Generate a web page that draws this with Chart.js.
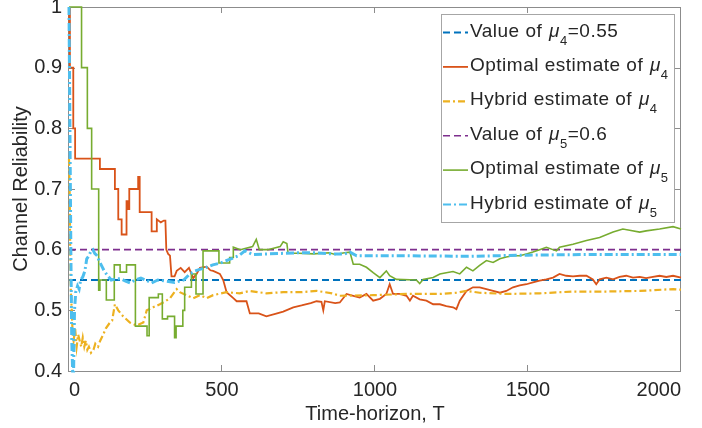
<!DOCTYPE html>
<html>
<head>
<meta charset="utf-8">
<script src="https://cdn.jsdelivr.net/npm/chart.js@4"></script>
<style>
	html, body { margin: 0; padding: 0; background: #fff; }
	#wrap { width: 702px; height: 428px; position: relative; }
</style>
</head>
<body>
<div id="wrap"><canvas id="reliability"></canvas></div>
<script>
const xTicks = [0, 500, 1000, 1500, 2000];
const yTicks = [0.4, 0.5, 0.6, 0.7, 0.8, 0.9, 1];

const legendLabels = ['Value of ', 'Optimal estimate of ', 'Hybrid estimate of ', 'Value of ', 'Optimal estimate of ', 'Hybrid estimate of '];
const legendSubs = ['4', '4', '4', '5', '5', '5'];
const legendTails = ['=0.55', '', '', '=0.6', '', ''];

const trueMu4 = 0.55;
const trueMu5 = 0.6;
const trueT = [0, 2000];

const optMu4T = [0, 3, 3, 14, 14, 20, 20, 101, 101, 150, 150, 161, 161, 172, 172, 188, 188, 193, 193, 197, 197, 226, 226, 231, 231, 270, 270, 287, 287, 300, 310, 315, 318, 324, 330, 335, 345, 352, 365, 378, 392, 406, 417, 428, 450, 462, 471, 493, 504, 515, 537, 548, 580, 591, 620, 645, 680, 700, 733, 760, 790, 809, 825, 831, 836, 870, 885, 907, 929, 950, 972, 994, 1016, 1037, 1048, 1059, 1081, 1103, 1114, 1124, 1146, 1168, 1190, 1212, 1233, 1255, 1266, 1277, 1299, 1320, 1342, 1364, 1386, 1408, 1429, 1451, 1473, 1495, 1516, 1538, 1560, 1582, 1603, 1625, 1647, 1669, 1691, 1712, 1723, 1734, 1756, 1778, 1799, 1821, 1843, 1865, 1886, 1908, 1930, 1952, 1974, 2000];
const optMu4 = [1, 1, 0.9, 0.9, 0.8, 0.8, 0.75, 0.75, 0.733, 0.733, 0.7, 0.7, 0.65, 0.65, 0.625, 0.625, 0.68, 0.68, 0.667, 0.667, 0.7, 0.7, 0.72, 0.72, 0.662, 0.662, 0.63, 0.63, 0.65, 0.645, 0.648, 0.648, 0.6, 0.593, 0.59, 0.556, 0.556, 0.565, 0.57, 0.563, 0.57, 0.553, 0.56, 0.57, 0.572, 0.566, 0.565, 0.56, 0.55, 0.53, 0.52, 0.515, 0.515, 0.495, 0.495, 0.49, 0.495, 0.498, 0.505, 0.508, 0.512, 0.515, 0.514, 0.5, 0.515, 0.512, 0.513, 0.527, 0.524, 0.521, 0.527, 0.516, 0.519, 0.527, 0.543, 0.527, 0.527, 0.524, 0.516, 0.524, 0.518, 0.516, 0.51, 0.51, 0.507, 0.505, 0.502, 0.516, 0.532, 0.538, 0.538, 0.535, 0.532, 0.529, 0.532, 0.538, 0.541, 0.543, 0.546, 0.549, 0.551, 0.554, 0.56, 0.557, 0.556, 0.557, 0.557, 0.551, 0.543, 0.551, 0.554, 0.551, 0.555, 0.557, 0.554, 0.555, 0.553, 0.555, 0.557, 0.555, 0.557, 0.554];

const hybMu4T = [0, 2, 4, 6, 9, 12, 15, 20, 25, 30, 35, 40, 45, 50, 55, 60, 65, 72, 80, 86, 95, 102, 112, 120, 134, 141, 150, 161, 177, 199, 221, 243, 254, 275, 297, 315, 330, 352, 362, 384, 406, 428, 450, 471, 515, 558, 591, 645, 700, 760, 810, 860, 885, 994, 1103, 1212, 1266, 1299, 1342, 1429, 1538, 1647, 1756, 1865, 1974, 2000];
const hybMu4 = [0.75, 0.7, 0.6, 0.53, 0.5, 0.46, 0.45, 0.47, 0.44, 0.46, 0.45, 0.44, 0.455, 0.44, 0.45, 0.435, 0.44, 0.43, 0.435, 0.445, 0.44, 0.45, 0.46, 0.47, 0.48, 0.483, 0.51, 0.5, 0.49, 0.48, 0.475, 0.48, 0.5, 0.505, 0.51, 0.515, 0.52, 0.535, 0.53, 0.525, 0.52, 0.525, 0.52, 0.525, 0.53, 0.528, 0.532, 0.528, 0.53, 0.53, 0.532, 0.528, 0.524, 0.525, 0.527, 0.527, 0.529, 0.532, 0.529, 0.527, 0.528, 0.531, 0.531, 0.532, 0.535, 0.534];

const optMu5T = [0, 41, 41, 60, 60, 74, 74, 97, 97, 101, 101, 122, 122, 148, 148, 167, 167, 188, 188, 217, 217, 255, 255, 262, 262, 292, 292, 305, 305, 322, 322, 345, 345, 350, 350, 372, 372, 378, 378, 400, 400, 415, 415, 438, 438, 490, 490, 525, 525, 537, 537, 560, 600, 612, 622, 650, 690, 700, 712, 716, 750, 800, 850, 870, 900, 918, 929, 950, 972, 994, 1016, 1037, 1048, 1070, 1135, 1146, 1157, 1190, 1212, 1233, 1255, 1277, 1299, 1320, 1342, 1364, 1386, 1408, 1429, 1451, 1473, 1495, 1516, 1538, 1560, 1593, 1603, 1647, 1691, 1734, 1778, 1810, 1832, 1865, 1886, 1930, 1974, 2000];
const optMu5 = [1, 1, 0.9, 0.9, 0.8, 0.8, 0.7, 0.7, 0.533, 0.533, 0.55, 0.55, 0.517, 0.517, 0.575, 0.575, 0.563, 0.563, 0.575, 0.575, 0.474, 0.474, 0.458, 0.458, 0.521, 0.521, 0.527, 0.527, 0.486, 0.486, 0.49, 0.49, 0.455, 0.455, 0.474, 0.474, 0.5, 0.5, 0.538, 0.538, 0.56, 0.56, 0.527, 0.527, 0.598, 0.598, 0.578, 0.578, 0.587, 0.587, 0.604, 0.6, 0.605, 0.617, 0.6, 0.6, 0.605, 0.613, 0.61, 0.594, 0.594, 0.593, 0.595, 0.592, 0.595, 0.596, 0.576, 0.576, 0.571, 0.562, 0.554, 0.565, 0.557, 0.551, 0.55, 0.544, 0.551, 0.554, 0.56, 0.562, 0.564, 0.56, 0.571, 0.565, 0.574, 0.582, 0.579, 0.585, 0.588, 0.59, 0.59, 0.593, 0.596, 0.6, 0.604, 0.598, 0.604, 0.609, 0.615, 0.62, 0.629, 0.634, 0.632, 0.629, 0.631, 0.634, 0.638, 0.634];

const hybMu5T = [0, 3, 6, 9, 12, 15, 18, 22, 28, 33, 38, 45, 52, 58, 65, 72, 78, 84, 92, 100, 108, 115, 125, 138, 155, 170, 185, 200, 215, 235, 255, 270, 290, 320, 345, 375, 395, 412, 430, 445, 470, 495, 520, 555, 575, 600, 650, 700, 750, 800, 863, 900, 918, 940, 1100, 1300, 1500, 1700, 2000];
const hybMu5 = [1, 0.8, 0.6, 0.45, 0.4, 0.4, 0.5, 0.53, 0.54, 0.535, 0.55, 0.555, 0.565, 0.585, 0.59, 0.598, 0.6, 0.594, 0.59, 0.58, 0.572, 0.565, 0.558, 0.55, 0.552, 0.552, 0.548, 0.545, 0.55, 0.553, 0.549, 0.545, 0.55, 0.548, 0.546, 0.55, 0.56, 0.565, 0.568, 0.57, 0.575, 0.578, 0.583, 0.59, 0.598, 0.592, 0.593, 0.594, 0.595, 0.595, 0.593, 0.593, 0.596, 0.59, 0.59, 0.589, 0.591, 0.592, 0.592];

const textColor = '#262626';
const axisColor = '#8c8c8c';
const fontFamily = '"Liberation Sans", Arial, sans-serif';

const toPoints = (xs, ys) => xs.map((x, i) => ({x: x, y: ys[i]}));

const axesBox = {
	id: 'axesBox',
	beforeDatasetsDraw(chart) {
		const {ctx, chartArea: {left, right, top, bottom}} = chart;
		const xs = chart.scales.x;
		const ys = chart.scales.y;
		ctx.save();
		ctx.strokeStyle = axisColor;
		ctx.lineWidth = 1;
		ctx.strokeRect(left - 0.5, top + 0.5, right - left, bottom - top);
		ctx.beginPath();
		xs.ticks.forEach(t => {
			const px = Math.round(xs.getPixelForValue(t.value)) - 0.5;
			ctx.moveTo(px, bottom);
			ctx.lineTo(px, bottom - 6);
			ctx.moveTo(px, top);
			ctx.lineTo(px, top + 6);
		});
		ys.ticks.forEach(t => {
			const py = Math.round(ys.getPixelForValue(t.value)) + 0.5;
			ctx.moveTo(left, py);
			ctx.lineTo(left + 6, py);
			ctx.moveTo(right, py);
			ctx.lineTo(right - 6, py);
		});
		ctx.stroke();
		ctx.restore();
	}
};

const mathLegend = {
	id: 'mathLegend',
	afterDraw(chart) {
		const {ctx} = chart;
		const boxX = 441, boxY = 14, boxW = 233, boxH = 208;
		ctx.save();
		ctx.fillStyle = '#fff';
		ctx.fillRect(boxX, boxY, boxW, boxH);
		ctx.strokeStyle = '#a6a6a6';
		ctx.lineWidth = 1;
		ctx.strokeRect(boxX + 0.5, boxY + 0.5, boxW, boxH);
		chart.data.datasets.forEach((ds, i) => {
			const y = 32.5 + i * 34.4;
			ctx.save();
			ctx.strokeStyle = ds.borderColor;
			ctx.lineWidth = Math.min(ds.borderWidth, 2.2);
			ctx.setLineDash(ds.borderDash || []);
			ctx.beginPath();
			ctx.moveTo(443, y);
			ctx.lineTo(468, y);
			ctx.stroke();
			ctx.restore();

			let x = 470;
			const base = y + 4;
			ctx.fillStyle = textColor;
			ctx.textBaseline = 'alphabetic';
			ctx.textAlign = 'left';
			if ('letterSpacing' in ctx) ctx.letterSpacing = '0.5px';
			ctx.font = '19px ' + fontFamily;
			ctx.fillText(legendLabels[i], x, base);
			x += ctx.measureText(legendLabels[i]).width + 1;
			ctx.font = 'italic 19px ' + fontFamily;
			ctx.fillText('\u03bc', x, base);
			x += ctx.measureText('\u03bc').width;
			ctx.font = '13px ' + fontFamily;
			ctx.fillText(legendSubs[i], x, base + 8);
			x += ctx.measureText(legendSubs[i]).width;
			if (legendTails[i]) {
				ctx.font = '19px ' + fontFamily;
				ctx.fillText(legendTails[i], x, base);
			}
		});
		ctx.restore();
	}
};

class ReliabilityChart {
	_canvas;
	_chart;

	constructor(canvasId) {
		this._canvas = document.getElementById(canvasId);
	}

	datasets() {
		return [
			{data: toPoints(trueT, [trueMu4, trueMu4]), borderColor: '#0072BD', borderWidth: 2, borderDash: [7, 4], order: 5},
			{data: toPoints(optMu4T, optMu4), borderColor: '#D95319', borderWidth: 1.8, order: 4},
			{data: toPoints(hybMu4T, hybMu4), borderColor: '#EDB120', borderWidth: 2.2, borderDash: [7, 3, 2, 3], order: 3},
			{data: toPoints(trueT, [trueMu5, trueMu5]), borderColor: '#7E2F8E', borderWidth: 1.6, borderDash: [7, 4], order: 2},
			{data: toPoints(optMu5T, optMu5), borderColor: '#77AC30', borderWidth: 1.6, order: 1},
			{data: toPoints(hybMu5T, hybMu5), borderColor: '#4DBEEE', borderWidth: 3, borderDash: [8, 3, 2, 3], order: 0}
		].map(d => Object.assign({pointRadius: 0, fill: false, tension: 0, clip: 3}, d));
	}

	render() {
		Chart.defaults.font.family = fontFamily;
		Chart.defaults.color = textColor;
		const config = {
			type: 'line',
			data: {datasets: this.datasets()},
			options: {
				responsive: true,
				maintainAspectRatio: false,
				animation: false,
				layout: {padding: {left: 0, right: 21, top: 7, bottom: 0}},
				plugins: {legend: {display: false}, tooltip: {enabled: false}},
				scales: {
					x: {
						type: 'linear',
						min: 0,
						max: 2000,
						afterBuildTicks: s => { s.ticks = xTicks.map(v => ({value: v})); },
						afterFit: s => { s.height = 57; s.paddingLeft = 0; s.paddingRight = 0; },
						grid: {display: false, drawTicks: false},
						border: {display: false},
						ticks: {
							align: 'inner',
							padding: 7,
							maxRotation: 0,
							color: textColor,
							font: {size: 20},
							callback: v => String(v)
						},
						title: {display: true, text: 'Time-horizon, T', color: textColor, font: {size: 20}, padding: {top: 0, bottom: 2}}
					},
					y: {
						min: 0.4,
						max: 1,
						afterBuildTicks: s => { s.ticks = yTicks.map(v => ({value: v})); },
						afterFit: s => { s.width = 69; s.paddingTop = 0; s.paddingBottom = 0; },
						grid: {display: false, drawTicks: false},
						border: {display: false},
						ticks: {
							padding: 7,
							color: textColor,
							font: {size: 20},
							callback: v => String(+v.toFixed(1))
						},
						title: {display: true, text: 'Channel Reliability', color: textColor, font: {size: 20}, padding: {top: 9, bottom: 0}}
					}
				}
			},
			plugins: [axesBox, mathLegend]
		};
		this._chart = new Chart(this._canvas, config);
	}
}

const chart = new ReliabilityChart('reliability');
chart.render();
</script>
</body>
</html>
